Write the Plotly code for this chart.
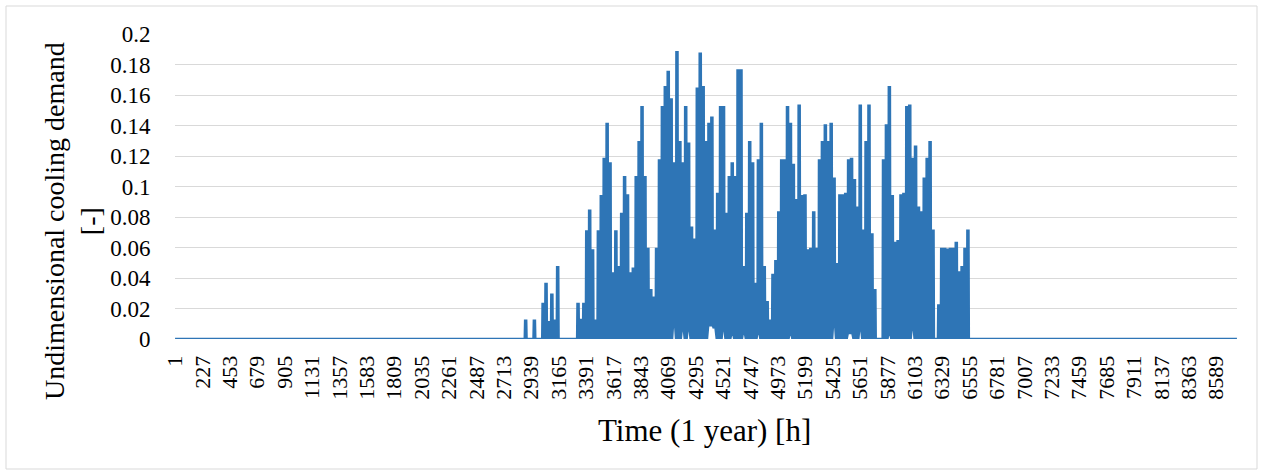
import plotly.graph_objects as go

# ---- data ----
first_day = 117  # day index (0-based) of the first entry below

daily_peak = [
    0, 0, 0, 0.012, 0, 0, 0.012, 0, 0, 0.023,
    0.036, 0.011, 0.029, 0.012, 0.047, 0, 0, 0, 0, 0,
    0, 0.023, 0.0125, 0.023, 0.0705, 0.084, 0.058, 0.012, 0.0705, 0.0935,
    0.118, 0.141, 0.115, 0.043, 0.0705, 0.047, 0.082, 0.106, 0.094, 0.043,
    0.046, 0.106, 0.129, 0.152, 0.106, 0.059, 0.032, 0.027, 0.059, 0.117,
    0.152, 0.165, 0.175, 0.157, 0.115, 0.188, 0.129, 0.115, 0.152, 0.128,
    0.073, 0.065, 0.164, 0.187, 0.165, 0.129, 0.141, 0.145, 0.071, 0.095,
    0.152, 0.152, 0.082, 0.106, 0.115, 0.106, 0.176, 0.176, 0.047, 0.082,
    0.129, 0.115, 0.036, 0.117, 0.141, 0.047, 0.024, 0.012, 0.042, 0.051,
    0.083, 0.117, 0.117, 0.152, 0.141, 0.114, 0.091, 0.153, 0.0935, 0.094,
    0.058, 0.059, 0.083, 0.059, 0.117, 0.129, 0.140, 0.129, 0.141, 0.105,
    0.049, 0.094, 0.094, 0.095, 0.117, 0.118, 0.104, 0.086, 0.153, 0.071,
    0.129, 0.153, 0.0685, 0.032, 0, 0, 0.117, 0.140, 0.165, 0.0935,
    0.063, 0.064, 0.094, 0.095, 0.152, 0.153, 0.118, 0.126, 0.086, 0.083,
    0.105, 0.118, 0.129, 0.071, 0, 0.022, 0.059, 0.059, 0.0585, 0.059,
    0.059, 0.063, 0.0435, 0.047, 0.059, 0.071,
]

night_min = [
    0, 0, 0, 0, 0, 0, 0, 0, 0, 0,
    0, 0, 0, 0, 0, 0, 0, 0, 0, 0,
    0, 0, 0, 0, 0, 0, 0, 0, 0, 0,
    0, 0, 0, 0, 0, 0, 0, 0, 0, 0,
    0, 0, 0, 0, 0, 0, 0, 0, 0, 0,
    0, 0, 0, 0, 0.012, 0, 0, 0.008, 0, 0.008,
    0, 0, 0, 0, 0, 0, 0.009, 0.009, 0.007, 0,
    0, 0.008, 0, 0, 0.004, 0, 0, 0, 0.005, 0,
    0, 0, 0, 0.005, 0, 0, 0, 0, 0, 0,
    0, 0, 0, 0, 0.004, 0, 0, 0, 0, 0,
    0, 0, 0, 0, 0, 0, 0, 0, 0, 0.012,
    0, 0, 0, 0, 0.004, 0.004, 0, 0, 0.008, 0,
    0, 0, 0, 0, 0, 0, 0, 0, 0.004, 0,
    0, 0, 0, 0, 0, 0, 0.009, 0, 0, 0,
    0, 0, 0, 0, 0, 0, 0, 0, 0, 0,
    0, 0, 0, 0, 0, 0,
]

# daily cooling schedule (hour of day): off -> ramp -> peak held -> off
cooling_start_hour = 6
peak_on_hour = 9
peak_off_hour = 17
cooling_end_hour = 20

year_start_hour = 1
year_end_hour = 8760

tick_labels = [1, 227, 453, 679, 905, 1131, 1357, 1583, 1809, 2035, 2261, 2487,
               2713, 2939, 3165, 3391, 3617, 3843, 4069, 4295, 4521, 4747, 4973,
               5199, 5425, 5651, 5877, 6103, 6329, 6555, 6781, 7007, 7233, 7459,
               7685, 7911, 8137, 8363, 8589]

y_ticks = [0, 0.02, 0.04, 0.06, 0.08, 0.1, 0.12, 0.14, 0.16, 0.18, 0.2]

# ---- build the hourly trace from the daily values ----
hours = [year_start_hour]
vals = [0]
for i, (pk, mn) in enumerate(zip(daily_peak, night_min)):
    d = first_day + i
    hours += [24 * d + cooling_start_hour, 24 * d + peak_on_hour,
              24 * d + peak_off_hour, 24 * d + cooling_end_hour]
    vals += [mn, pk, pk, mn]
hours += [year_end_hour]
vals += [0]

FONT = "Liberation Serif, Times New Roman, serif"
BLUE = "#2E75B6"
GRID = "#D9D9D9"

fig = go.Figure()
fig.add_trace(go.Scatter(x=hours, y=vals, mode="lines",
                         line=dict(color=BLUE, width=2.6),
                         hoverinfo="skip", showlegend=False))

L, R, T, B = 175, 27, 34, 136
W, H = 1264, 475
pw, ph = W - L - R, H - T - B

def px(x):
    return (x - L) / pw

def py(y):
    return (H - B - y) / ph

fig.update_layout(
    width=W, height=H,
    margin=dict(l=L, r=R, t=T, b=B, pad=0),
    paper_bgcolor="white", plot_bgcolor="white",
    font=dict(family=FONT, color="black"),
    xaxis=dict(range=[0.5, 8760.5], tickmode="array",
               tickvals=tick_labels, ticktext=[str(t) for t in tick_labels],
               tickangle=-90, tickfont=dict(size=22, family=FONT, color="black"),
               ticks="outside", ticklen=7, tickcolor="rgba(0,0,0,0)",
               showgrid=False, zeroline=False, showline=False),
    yaxis=dict(range=[0, 0.2], tickmode="array", tickvals=y_ticks,
               ticktext=[("%g" % v) for v in y_ticks],
               tickfont=dict(size=23, family=FONT, color="black"),
               ticks="outside", ticklen=19, tickcolor="rgba(0,0,0,0)",
               showgrid=True, gridcolor=GRID, gridwidth=1,
               zeroline=False, showline=False),
    shapes=[dict(type="rect", xref="paper", yref="paper",
                 x0=px(6), x1=px(1257), y0=py(469), y1=py(6),
                 line=dict(color=GRID, width=1), layer="below")],
    annotations=[
        dict(text="Undimensional cooling demand<br>[-]", textangle=-90,
             xref="paper", yref="paper", x=px(73), y=py(221),
             xanchor="center", yanchor="middle", showarrow=False,
             font=dict(size=28, family=FONT, color="black")),
        dict(text="Time (1 year) [h]", xref="paper", yref="paper",
             x=px(704), y=py(430), xanchor="center", yanchor="middle",
             showarrow=False, font=dict(size=31, family=FONT, color="black")),
    ],
)

fig.write_html("out.html", config={"displayModeBar": False},
               post_script="document.body.style.margin='0';")
